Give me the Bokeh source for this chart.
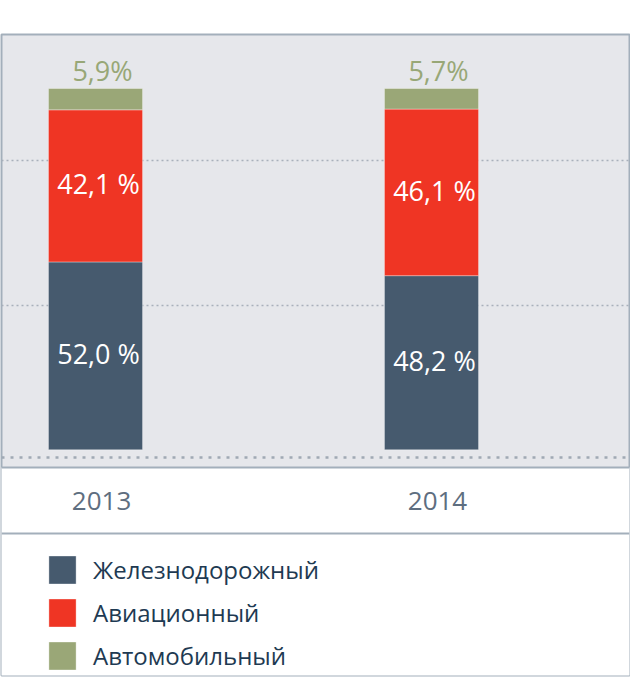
#!/usr/bin/env python3
# -*- coding: utf-8 -*-

import numpy as np
from bokeh.plotting import figure
from bokeh.models import ColumnDataSource, Range1d, FixedTicker, Span
from bokeh.core.properties import value
from bokeh.embed import file_html
from bokeh.resources import INLINE

years = ['2013', '2014']
rail = [52.0, 48.2]
avia = [42.1, 46.1]
auto = [5.9, 5.7]
series_names = ['Железнодорожный', 'Авиационный', 'Автомобильный']
series_colors = ['#465a6e', '#ef3524', '#9aa777']
grid_ticks = [40, 80]

FONT = 'Open Sans'
BORDER = '#a3afbb'
BAR_W = 0.28
BAND_TOP = -4.9
BAND_BOTTOM = -23.17
BASELINE = -2.13


def fmt(v, sep=' '):
    return ('%.1f' % v).replace('.', ',') + sep + '%'


x = list(range(len(years)))
rail_a = np.array(rail)
avia_a = np.array(avia)
auto_a = np.array(auto)

src = ColumnDataSource(data=dict(
    x=x, rail=rail, avia=avia, auto=auto,
))

p = figure(
    width=630, height=677,
    x_range=Range1d(-0.2798, 1.5893),
    y_range=Range1d(-62.47, 114.95),
    x_axis_location=None, y_axis_location=None,
    toolbar_location=None, output_backend='svg',
    min_border_left=1, min_border_right=1,
    min_border_top=34, min_border_bottom=2,
)
p.background_fill_color = '#e6e7eb'
p.border_fill_color = 'white'
p.outline_line_color = BORDER
p.outline_line_width = 2
p.xgrid.visible = False
p.ygrid.ticker = FixedTicker(ticks=grid_ticks)
p.ygrid.grid_line_color = '#a9b0bb'
p.ygrid.grid_line_width = 1.5
p.ygrid.grid_line_dash = '2 3'

# white band for the years and the legend box
p.quad(left=-1, right=3, top=BAND_TOP, bottom=-70,
       fill_color='white', line_color=None)
p.add_layout(Span(location=BAND_TOP, dimension='width',
                  line_color=BORDER, line_width=2))
p.add_layout(Span(location=BAND_BOTTOM, dimension='width',
                  line_color=BORDER, line_width=2))
p.add_layout(Span(location=BASELINE, dimension='width',
                  line_color='#a0a9b4', line_width=2.5,
                  line_dash='3 6'))

p.vbar_stack(
    ['rail', 'avia', 'auto'], x='x', width=BAR_W,
    color=series_colors, line_color='white', line_alpha=0.35,
    line_width=1, source=src, legend_label=series_names,
)

# labels inside the segments
lab_y = list(rail_a / 2) + list(rail_a + avia_a / 2)
lab_t = [fmt(v) for v in rail] + [fmt(v) for v in avia]
lab_x = x + x
p.text(lab_x, lab_y, text=lab_t, text_color='white',
       text_font=value(FONT), text_font_size='27px',
       text_align='center', text_baseline='middle',
       x_offset=3, y_offset=-2)

# labels above the bars
top_y = list(rail_a + avia_a + auto_a)
p.text(x, top_y, text=[fmt(v, '') for v in auto], text_color='#98a777',
       text_font=value(FONT), text_font_size='27px',
       text_align='center', text_baseline='middle',
       x_offset=7, y_offset=-18)

# year labels
p.text(x, [(BAND_TOP + BAND_BOTTOM) / 2] * len(x), text=years,
       text_color='#5e6e80', text_font=value(FONT),
       text_font_size='26px',
       text_align='center', text_baseline='middle', x_offset=6)

leg = p.legend[0]
leg.location = (44, 2)
leg.padding = 0
leg.margin = 0
leg.border_line_color = None
leg.background_fill_alpha = 0
leg.glyph_width = 34
leg.glyph_height = 35
leg.label_standoff = 14
leg.spacing = 8
leg.label_text_font = FONT
leg.label_text_font_size = '24px'
leg.label_text_color = '#1e3a52'

open('out.html', 'w').write(file_html(p, INLINE))
